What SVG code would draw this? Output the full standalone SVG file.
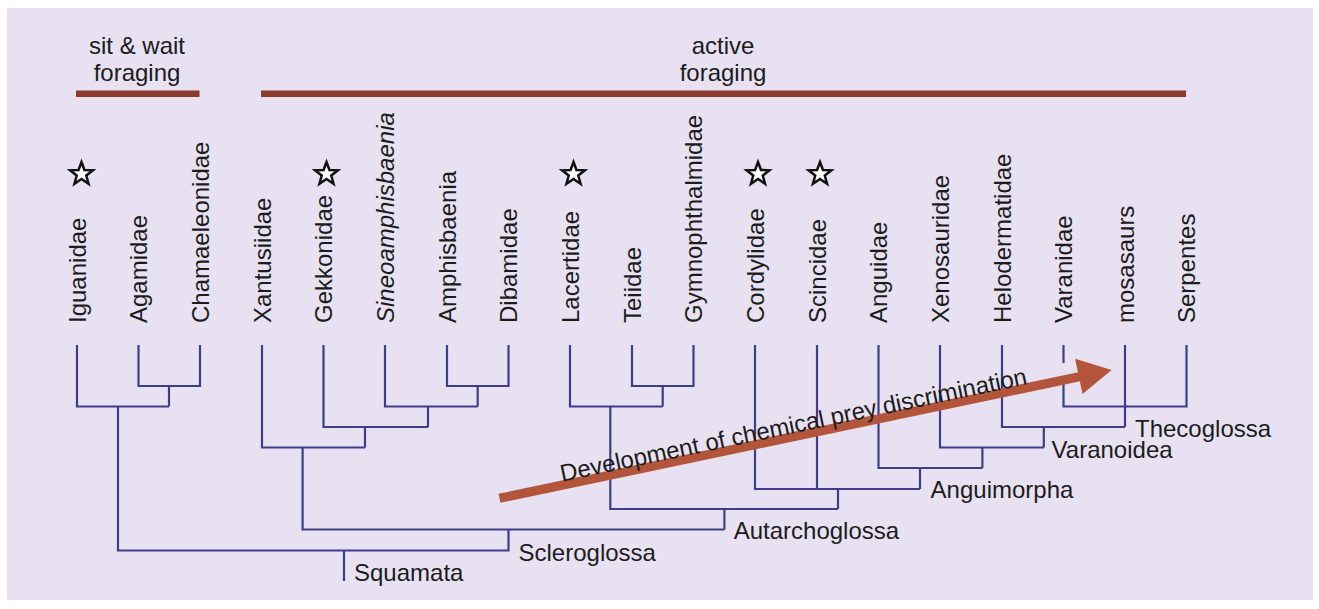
<svg xmlns="http://www.w3.org/2000/svg" width="1319" height="609" viewBox="0 0 1319 609">
<defs>
<style>
text{font-family:"Liberation Sans",Arial,sans-serif;font-size:24px;fill:#1c1c1c}
.leaf{text-anchor:start}
.it{font-style:italic}
.tree path{fill:none;stroke:#3f3c8a;stroke-width:2.2}
.bar{fill:#8b3a2d}
.star{fill:#ffffff;stroke:#111111;stroke-width:2.5;stroke-linejoin:miter}
.mid{text-anchor:middle}
</style>
<path id="st" d="M0,-12 L2.94,-4.05 L11.41,-3.71 L4.76,1.55 L7.05,9.71 L0,5 L-7.05,9.71 L-4.76,1.55 L-11.41,-3.71 L-2.94,-4.05 Z"/>
</defs>
<rect x="0" y="0" width="1319" height="609" fill="#ffffff"/>
<rect x="7" y="8" width="1306" height="592" fill="#e7e1f1"/>

<g id="foraging-labels">
<text class="mid" x="137" y="54">sit &amp; wait</text>
<text class="mid" x="137" y="81">foraging</text>
<rect class="bar" x="76" y="90.5" width="123.5" height="6.5"/>
<text class="mid" x="723" y="54">active</text>
<text class="mid" x="723" y="81">foraging</text>
<rect class="bar" x="261" y="90.5" width="925" height="6.5"/>
</g>

<g id="stars">
<use href="#st" class="star" x="81.5" y="174"/>
<use href="#st" class="star" x="326.5" y="174"/>
<use href="#st" class="star" x="573.5" y="174"/>
<use href="#st" class="star" x="758" y="174"/>
<use href="#st" class="star" x="820" y="174"/>
</g>

<g id="leaf-labels">
<text class="leaf" transform="translate(85.5,323) rotate(-90)">Iguanidae</text>
<text class="leaf" transform="translate(147,323) rotate(-90)">Agamidae</text>
<text class="leaf" transform="translate(208.5,323) rotate(-90)">Chamaeleonidae</text>
<text class="leaf" transform="translate(270.5,323) rotate(-90)">Xantusiidae</text>
<text class="leaf" transform="translate(332,323) rotate(-90)">Gekkonidae</text>
<text class="leaf it" transform="translate(393.5,323) rotate(-90)">Sineoamphisbaenia</text>
<text class="leaf" transform="translate(455.5,323) rotate(-90)">Amphisbaenia</text>
<text class="leaf" transform="translate(517,323) rotate(-90)">Dibamidae</text>
<text class="leaf" transform="translate(578.5,323) rotate(-90)">Lacertidae</text>
<text class="leaf" transform="translate(640.5,323) rotate(-90)">Teiidae</text>
<text class="leaf" transform="translate(702,323) rotate(-90)">Gymnophthalmidae</text>
<text class="leaf" transform="translate(763.5,323) rotate(-90)">Cordylidae</text>
<text class="leaf" transform="translate(825.5,323) rotate(-90)">Scincidae</text>
<text class="leaf" transform="translate(887,323) rotate(-90)">Anguidae</text>
<text class="leaf" transform="translate(948.5,323) rotate(-90)">Xenosauridae</text>
<text class="leaf" transform="translate(1010.5,323) rotate(-90)">Helodermatidae</text>
<text class="leaf" transform="translate(1072,323) rotate(-90)">Varanidae</text>
<text class="leaf" transform="translate(1133.5,323) rotate(-90)">mosasaurs</text>
<text class="leaf" transform="translate(1195,323) rotate(-90)">Serpentes</text>
</g>

<g id="connectors" class="tree">
<path d="M77,345 V406.5 H169"/>
<path d="M138.5,345 V386 H200 V345"/>
<path d="M169,386 V406.5"/>
<path d="M118,406.5 V550.5 H508.5 V529.5"/>
<path d="M344,550.5 V581"/>
<path d="M447,345 V386 H508.5 V345"/>
<path d="M477.7,386 V406.5"/>
<path d="M385,345 V406.5 H477.7"/>
<path d="M428,406.5 V427"/>
<path d="M323.5,345 V427 H428"/>
<path d="M365,427 V447.5"/>
<path d="M262,345 V447.5 H365"/>
<path d="M302.6,447.5 V529.5 H724.4"/>
<path d="M632,345 V386 H693.5 V345"/>
<path d="M662.7,386 V406.5"/>
<path d="M570,345 V406.5 H662.7"/>
<path d="M610.3,406.5 V509 H838"/>
<path d="M724.4,509 V529.5"/>
<path d="M755,345 V489 H920"/>
<path d="M817,345 V489"/>
<path d="M838,489 V509"/>
<path d="M920,468 V489"/>
<path d="M878.5,345 V468 H982.4"/>
<path d="M982.4,447.5 V468"/>
<path d="M940,345 V447.5 H1043.8"/>
<path d="M1043.8,427 V447.5"/>
<path d="M1002,345 V427 H1125"/>
<path d="M1125,345 V427"/>
<path d="M1063.5,345 V363"/>
<path d="M1063.5,380 V406.5 H1186.5 V345"/>
</g>

<g id="clade-labels">
<text x="354" y="581">Squamata</text>
<text x="518.5" y="561">Scleroglossa</text>
<text x="733.7" y="538.5">Autarchoglossa</text>
<text x="930.6" y="498">Anguimorpha</text>
<text x="1051.6" y="457.5">Varanoidea</text>
<text x="1135" y="437">Thecoglossa</text>
</g>

<g id="arrow" transform="translate(499.5,498.3) rotate(-11.84)">
<rect x="0" y="-4.6" width="596" height="9.2" fill="#b3553b"/>
<polygon points="592,-18.5 625.5,0 592,17.5" fill="#b3553b"/>
<text x="64.6" y="-3.3">Development of chemical prey discrimination</text>
</g>
</svg>
